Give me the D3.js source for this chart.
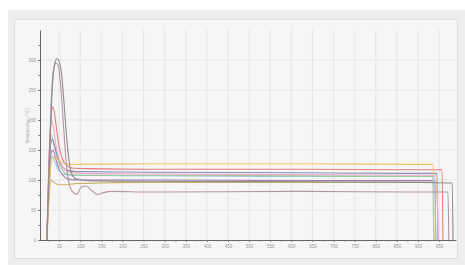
<!DOCTYPE html>
<html>
<head>
<meta charset="utf-8">
<script src="https://cdn.jsdelivr.net/npm/d3@7"></script>
<style>
  body { margin: 0; background: #fff; }
  svg { display: block; font-family: "DejaVu Sans", sans-serif; }
</style>
</head>
<body>
<div id="chart"></div>
<script>
// ---------- data (time, temperature) ----------
var xTicks = [50, 100, 150, 200, 250, 300, 350, 400, 450, 500, 550, 600, 650, 700, 750, 800, 850, 900, 950];
var yTicks = [0, 50, 100, 150, 200, 250, 300];

var grayRun = [[21,0],[28,150],[34,255],[40,295],[45,302],[50,298],[56,275],[62,225],[68,170],[74,130],[80,110],[90,102],[120,99],[265,98],[621,97],[900,96],[981,95],[983,0]];
var mauveRun = [[21,0],[26,120],[32,240],[38,288],[43,295],[48,290],[54,255],[60,195],[66,135],[72,100],[80,82],[92,76],[102,88],[114,90],[128,82],[140,76],[155,79],[175,81],[265,80],[621,81],[900,80],[971,80],[973,0]];
var orangeRun = [[21,0],[25,60],[30,120],[35,138],[42,136],[50,132],[60,128],[80,126],[265,127],[621,127],[900,126],[936,126],[938,0]];
var redRun = [[21,0],[26,130],[31,205],[34,222],[38,215],[44,185],[50,155],[58,135],[68,124],[80,120],[120,119],[265,118],[621,118],[900,117],[957,117],[959,0]];
var pinkRun = [[21,0],[25,110],[29,180],[32,198],[36,190],[42,160],[50,135],[60,120],[75,113],[100,111],[265,110],[621,109],[900,108],[945,108],[947,0]];
var slateRun = [[21,0],[26,110],[30,160],[34,168],[40,155],[48,135],[58,122],[70,116],[90,114],[265,113],[621,112],[900,111],[945,111],[947,0]];
var purpleRun = [[21,0],[27,100],[31,145],[35,150],[42,135],[50,118],[60,107],[75,101],[100,100],[265,100],[621,99],[900,99],[940,99],[942,0]];
var oliveRun = [[21,0],[27,80],[31,100],[36,97],[45,93],[60,92],[90,94],[265,96],[621,96],[900,96],[945,96],[947,0]];
var lightBlueRun = [[21,0],[28,120],[33,140],[40,130],[50,115],[65,109],[90,108],[265,107],[621,106],[900,106],[940,106],[942,0]];
var greenRun = [[21,0],[27,140],[31,175],[36,165],[44,140],[55,120],[70,110],[100,108],[265,108],[621,107],[900,106],[935,106],[937,0]];

var runs = [
  { name: "olive", values: oliveRun, color: "#c9b36a" },
  { name: "purple", values: purpleRun, color: "#a47bb4" },
  { name: "lightblue", values: lightBlueRun, color: "#9cc6dc" },
  { name: "green", values: greenRun, color: "#9cc89a" },
  { name: "slate", values: slateRun, color: "#8592b6" },
  { name: "pink", values: pinkRun, color: "#f2aacb" },
  { name: "red", values: redRun, color: "#e77a78" },
  { name: "orange", values: orangeRun, color: "#f0c668" },
  { name: "mauve", values: mauveRun, color: "#b8949e" },
  { name: "gray", values: grayRun, color: "#8c8c8c" }
];

var W = 465, H = 265;
var svg = d3.select("#chart").append("svg")
  .attr("width", W)
  .attr("height", H);

// outer frame and inner panel
svg.append("rect").attr("x", 8).attr("y", 10).attr("width", W - 8).attr("height", H - 10)
  .attr("fill", "#eeeeee");
svg.append("rect").attr("x", 14.5).attr("y", 19.5).attr("width", 443).attr("height", 239)
  .attr("fill", "#f6f6f6").attr("stroke", "#dedede");

var x = d3.scaleLinear().domain([0, 990]).range([38, 456]);
var y = d3.scaleLinear().domain([0, 350]).range([240, 30]);

// grid
var grid = svg.append("g");
grid.selectAll("line.vg")
  .data(xTicks)
  .join("line")
  .attr("class", "vg")
  .attr("x1", function (d) { return x(d); })
  .attr("x2", function (d) { return x(d); })
  .attr("y1", y(350)).attr("y2", y(0))
  .attr("stroke", "#e4e4e4").attr("stroke-width", 1);
grid.selectAll("line.hg")
  .data(yTicks.slice(1))
  .join("line")
  .attr("class", "hg")
  .attr("x1", 40).attr("x2", 456)
  .attr("y1", function (d) { return y(d); })
  .attr("y2", function (d) { return y(d); })
  .attr("stroke", "#e6e6e6").attr("stroke-width", 1);

// axes
var xAxis = svg.append("g")
  .attr("transform", "translate(0," + y(0) + ")")
  .call(d3.axisBottom(x).tickValues(xTicks).tickSize(2).tickSizeOuter(0).tickPadding(3));
svg.append("g")
  .attr("transform", "translate(0," + y(0) + ")")
  .call(d3.axisBottom(x).tickValues(d3.range(25, 990, 50)).tickSize(1.5).tickFormat(""))
  .select(".domain").remove();

var yAxis = svg.append("g")
  .attr("transform", "translate(40,0)")
  .call(d3.axisLeft(y).tickValues(yTicks).tickSize(2).tickSizeOuter(0).tickPadding(2));
svg.append("g")
  .attr("transform", "translate(40,0)")
  .call(d3.axisLeft(y).tickValues(d3.range(25, 350, 50)).tickSize(1.5).tickFormat(""))
  .select(".domain").remove();

svg.selectAll(".domain").attr("stroke", "#666");
svg.selectAll(".tick line").attr("stroke", "#777");
svg.selectAll(".tick text").attr("fill", "#9a9a9a").style("font-size", "4.5px");

svg.append("text")
  .attr("transform", "translate(29,126)rotate(-90)")
  .attr("text-anchor", "middle")
  .attr("fill", "#a0a0a0")
  .style("font-size", "4.5px")
  .text("Temperatur [°C]");

// lines
var line = d3.line()
  .x(function (d) { return x(d[0]); })
  .y(function (d) { return y(d[1]); })
  .curve(d3.curveMonotoneX);

svg.append("g")
  .selectAll("path")
  .data(runs)
  .join("path")
  .attr("d", function (d) { return line(d.values); })
  .attr("fill", "none")
  .attr("stroke", function (d) { return d.color; })
  .attr("stroke-width", 1.1);
</script>
</body>
</html>
